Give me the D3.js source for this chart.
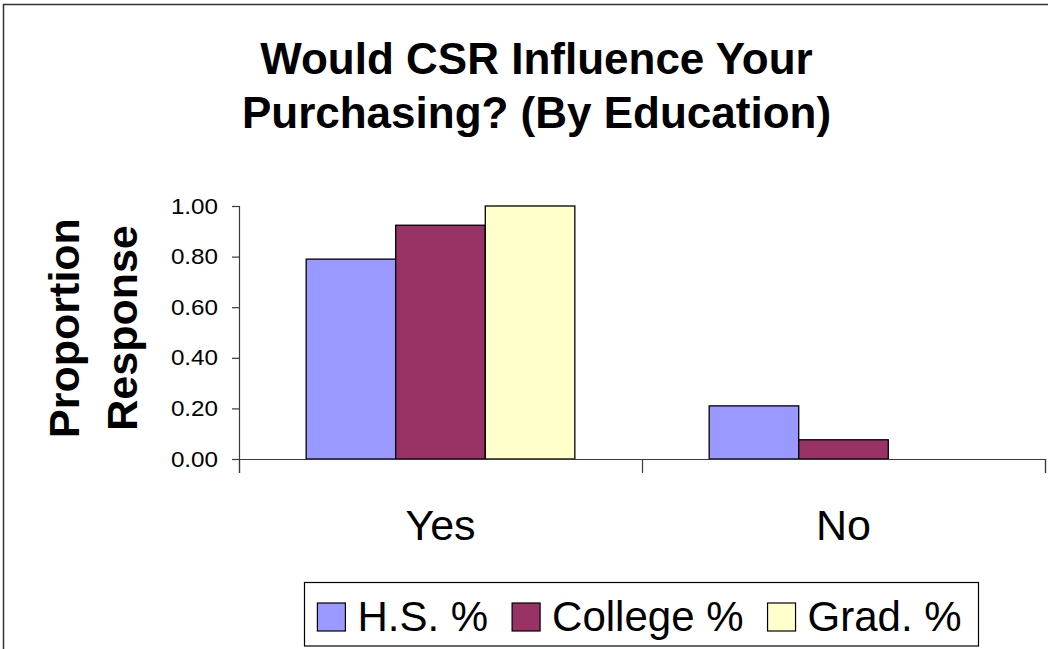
<!DOCTYPE html>
<html>
<head>
<meta charset="utf-8">
<script src="https://cdn.jsdelivr.net/npm/d3@7/dist/d3.min.js"></script>
<style>
  html, body { margin: 0; padding: 0; background: #ffffff; }
  svg { display: block; font-family: "Liberation Sans", Arial, sans-serif; }
</style>
</head>
<body>
<svg id="chart" width="1048" height="649"></svg>
<script>
// Survey answers by education level
const categories = ["Yes", "No"];
const seriesNames = ["H.S. %", "College %", "Grad. %"];
const hsValues = [0.79, 0.21];
const collegeValues = [0.924, 0.076];
const gradValues = [1.00, 0.00];
const yTicks = [0, 0.2, 0.4, 0.6, 0.8, 1.0];
const titleLines = ["Would CSR Influence Your", "Purchasing? (By Education)"];
const yTitleLines = ["Proportion", "Response"];

const colors = ["#9999ff", "#993366", "#ffffcc"];
const series = [hsValues, collegeValues, gradValues];

const svg = d3.select("#chart");

// outer chart frame (continues past the right and bottom edges)
svg.append("rect")
  .attr("x", 3.5).attr("y", 4.5)
  .attr("width", 1080).attr("height", 680)
  .attr("fill", "#ffffff")
  .attr("stroke", "#333333").attr("stroke-width", 1.5);

const plot = { left: 239, right: 1045, top: 206, bottom: 459 };

// title
const title = svg.append("text")
  .attr("text-anchor", "middle")
  .attr("font-weight", "bold")
  .attr("font-size", 44)
  .attr("fill", "#000");
titleLines.forEach((t, i) => {
  title.append("tspan").attr("x", 536.5).attr("y", 74 + i * 54).text(t);
});

// scales
const x = d3.scaleBand()
  .domain(categories)
  .range([plot.left, plot.right])
  .paddingInner(1 / 3)
  .paddingOuter(1 / 6);
const xs = d3.scaleBand()
  .domain(d3.range(seriesNames.length))
  .range([0, x.bandwidth()]);
const y = d3.scaleLinear().domain([0, 1]).range([plot.bottom, plot.top]);

// bars
series.forEach((vals, si) => {
  svg.append("g")
    .selectAll("rect")
    .data(categories.map((c, ci) => ({ c, v: vals[ci] })))
    .join("rect")
    .filter(d => d.v > 0)
    .attr("x", d => x(d.c) + xs(si))
    .attr("y", d => y(d.v))
    .attr("width", xs.bandwidth())
    .attr("height", d => y(0) - y(d.v))
    .attr("fill", colors[si])
    .attr("stroke", "#000")
    .attr("stroke-width", 1.3);
});

// y axis
const yAxis = svg.append("g")
  .attr("transform", `translate(${plot.left},0)`)
  .call(d3.axisLeft(y).tickValues(yTicks).tickFormat(d3.format(".2f")).tickSize(7).tickPadding(14));
yAxis.selectAll("text")
  .attr("font-size", 22)
  .attr("fill", "#000")
  .attr("font-family", "Liberation Sans, Arial, sans-serif")
  .each(function () {
    // slightly wide tick numerals
    const w = this.getComputedTextLength();
    d3.select(this).attr("textLength", w * 1.1).attr("lengthAdjust", "spacingAndGlyphs");
  });

// x axis: ticks on category boundaries
const xEdge = d3.scaleLinear().domain([0, categories.length]).range([plot.left, plot.right]);
const xAxis = svg.append("g")
  .attr("transform", `translate(0,${plot.bottom})`)
  .call(d3.axisBottom(xEdge).tickValues(d3.range(categories.length + 1)).tickFormat("").tickSize(14));

// category labels
const xLab = svg.append("g")
  .attr("transform", `translate(0,${plot.bottom})`)
  .call(d3.axisBottom(x).tickSize(0).tickPadding(50));
xLab.select(".domain").remove();
xLab.selectAll("text").attr("font-size", 43).attr("fill", "#000").attr("font-family", "Liberation Sans, Arial, sans-serif");

[yAxis, xAxis].forEach(g => {
  g.selectAll(".domain, line").attr("stroke", "#3a3a3a").attr("stroke-width", 1.2);
});

// y axis title
const yTitle = svg.append("text")
  .attr("text-anchor", "middle")
  .attr("font-weight", "bold")
  .attr("font-size", 43)
  .attr("fill", "#000")
  .attr("transform", "translate(0,328) rotate(-90)");
yTitleLines.forEach((t, i) => {
  yTitle.append("tspan").attr("x", 0).attr("y", 79 + i * 58).text(t);
});

// legend
const legend = svg.append("g");
legend.append("rect")
  .attr("x", 304.5).attr("y", 582.5)
  .attr("width", 674).attr("height", 63.5)
  .attr("fill", "#fff").attr("stroke", "#000").attr("stroke-width", 1.2);

const items = legend.selectAll("g.item")
  .data(seriesNames)
  .join("g").attr("class", "item");
items.append("rect")
  .attr("width", 28).attr("height", 28)
  .attr("y", 603)
  .attr("fill", (d, i) => colors[i])
  .attr("stroke", "#000").attr("stroke-width", 1.2);
items.append("text")
  .attr("y", 631)
  .attr("font-size", 42)
  .attr("fill", "#000")
  .text(d => d);

// lay out legend entries from their measured text widths
const swatchGap = 12, itemGap = 24;
const widths = [];
items.select("text").each(function () { widths.push(this.getComputedTextLength()); });
const total = d3.sum(widths) + seriesNames.length * (28 + swatchGap) + (seriesNames.length - 1) * itemGap;
let cx = 304.5 + (674 - total) / 2 - 2;
items.each(function (d, i) {
  const g = d3.select(this);
  g.select("rect").attr("x", cx);
  g.select("text").attr("x", cx + 28 + swatchGap);
  cx += 28 + swatchGap + widths[i] + itemGap;
});
</script>
</body>
</html>
